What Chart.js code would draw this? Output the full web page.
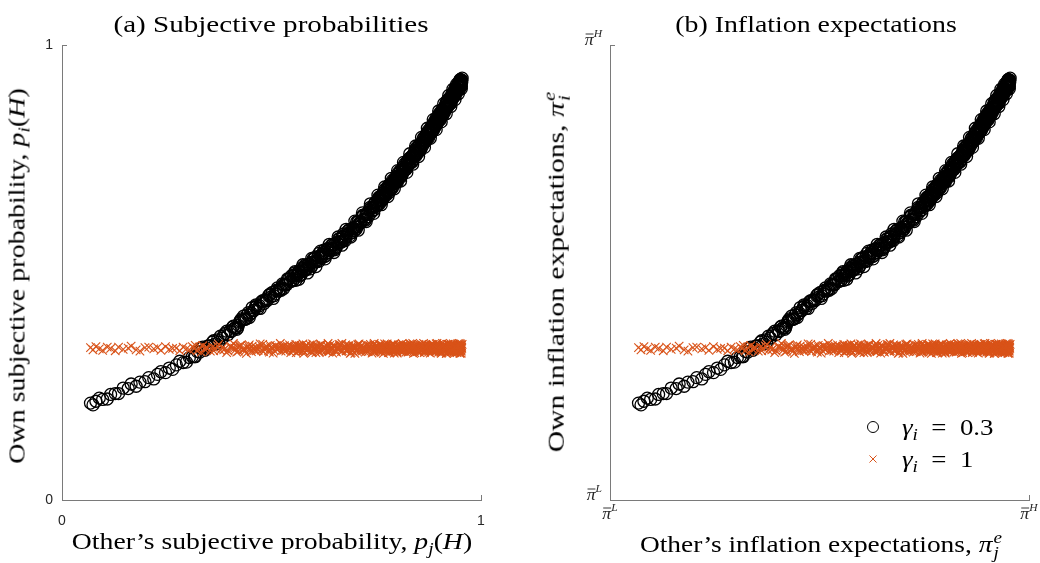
<!DOCTYPE html>
<html>
<head>
<meta charset="utf-8">
<script src="https://cdn.jsdelivr.net/npm/chart.js@4.4.1/dist/chart.umd.min.js"></script>
<style>
  html, body { margin: 0; padding: 0; background: #fff; }
  #wrap { position: relative; width: 1040px; height: 563px; overflow: hidden;
          font-family: "Liberation Serif", "Times New Roman", Times, serif; color: #000; }
  .panel { position: absolute; top: 0; width: 520px; height: 563px; }
  .lbl { position: absolute; white-space: nowrap; font-size: 23px; line-height: 1;
         transform-origin: center center; }
  .sb { font-size: 70%; position: relative; top: 0.28em; }
  .ss { display: inline-flex; flex-direction: column; font-size: 70%; line-height: 0.95;
        vertical-align: 0.55em; margin-left: 1px; }
</style>
</head>
<body>
<div id="wrap">
  <canvas id="panelA" class="panel" style="left:0" width="520" height="563"></canvas>
  <canvas id="panelB" class="panel" style="left:520px" width="520" height="563"></canvas>

  <div id="titleA" class="lbl">(a) Subjective probabilities</div>
  <div id="titleB" class="lbl">(b) Inflation expectations</div>
  <div id="xlabA" class="lbl">Other’s subjective probability, <i>p</i><span class="sb"><i>j</i></span>(<i>H</i>)</div>
  <div id="ylabA" class="lbl">Own subjective probability, <i>p</i><span class="sb"><i>i</i></span>(<i>H</i>)</div>
  <div id="xlabB" class="lbl">Other’s inflation expectations, <i>π</i><span class="ss"><i>e</i><i>j</i></span></div>
  <div id="ylabB" class="lbl">Own inflation expectations, <i>π</i><span class="ss"><i>e</i><i>i</i></span></div>
</div>

<script>
// Other agent's subjective probability of the high-inflation state, p_j(H)
const otherBelief = [
  .068,.074,.081,.089,.097,.108,.116,.127,.135,.146,.158,.165,.177,.186,.198,.207,.219,.228,.236,.247,.256,.264,.273,.281,.289,.297,
  .304,.311,.316,.323,.329,.336,.341,.347,.354,.359,.366,.371,.378,.383,.389,.396,.401,.407,.414,.419,
  .425,.431,.437,.442,.448,.454,.459,.465,.471,.476,.482,.488,.493,.498,
  .502,.506,.511,.514,.519,.523,.528,.531,.536,.540,
  .545,.548,.553,.557,.561,.566,.569,.574,.578,.582,
  .587,.590,.595,.599,.603,.608,.611,.616,.620,.624,
  .629,.632,.637,.641,.645,.650,.653,.658,.662,.666,
  .671,.674,.679,.683,.687,.692,.695,.700,.704,.708,
  .713,.716,.721,.725,.729,.734,.737,.742,.746,.749,
  .752,.754,.757,.759,.761,.764,.766,.768,.771,.773,
  .775,.778,.780,.782,.785,.787,.789,.792,.794,.796,
  .799,.801,.803,.806,.808,.810,.813,.815,.817,.820,
  .822,.824,.827,.829,.831,.834,.836,.838,.841,.843,
  .845,.848,.850,.852,.855,.857,.859,.862,.864,.866,
  .869,.871,.873,.876,.878,.880,.883,.885,.887,.890,
  .892,.894,.897,.899,.901,.903,.906,.908,.910,.912,
  .914,.917,.919,.921,.923,.925,.927,.929,.931,.933,
  .935,.937,.939,.940,.942,.943,.945,.946,.948,.949,
  .950,.951,.952,.953,
  .318,.332,.344,.362,.374,.386,.393,.404,.412,.421,.428,.435,.445,.452,.462,.468,.479,.486,.495,.509,.517,.526,.534,.543,
  .551,.555,.559,.564,.571,.576,.580,.585,.592,.597,
  .601,.606,.613,.618,.622,.627,.634,.639,.643,.648,
  .655,.660,.664,.669,.676,.681,.685,.690,.697,.702,
  .706,.711,.718,.723,.727,.731,.739,.744,.747,
  .753,.756,.758,.760,.763,.765,.767,.770,.772,.774,
  .777,.779,.781,.784,.786,.788,.791,.793,.795,.798,
  .800,.802,.805,.807,.809,.812,.814,.816,.819,.821,
  .823,.826,.828,.830,.833,.835,.837,.840,.842,.844,
  .847,.849,.851,.854,.856,.858,.861,.863,.865,.868,
  .870,.872,.875,.877,.879,.882,.884,.886,.889,.891,
  .893,.896,.898,.900,.902,.905,.907,.909,.911,.913,
  .916,.918,.920,.922,.924,.926,.928,.930,.932,.934,
  .936,.938,.941,.944,.947,.950,.954,
  .409,.417,.424,.433,.440,.447,.456,.463,.473,.481,.489,.497,.504,.512,.521,.529,.538,.546,
  .553,.558,.562,.567,.572,.577,.583,.588,.593,.598,
  .604,.609,.614,.619,.625,.630,.635,.640,.646,.651,
  .656,.661,.667,.672,.677,.682,.688,.693,.698,.703,
  .709,.714,.719,.724,.730,.735,.740,.745,
  .751,.755,.758,.762,.764,.767,.771,.773,.776,.780,
  .782,.785,.789,.791,.794,.798,.800,.803,.807,.809,
  .812,.816,.818,.821,.825,.827,.830,.834,.836,.839,
  .843,.845,.848,.852,.854,.857,.861,.863,.866,.870,
  .872,.875,.879,.881,.884,.888,.890,.893,.897,.899,
  .902,.906,.908,.911,.915,.917,.920,.924,.926,.929,
  .933,.935,.938,.942,.944,.947,.951,.953,
  .881,.886,.892,.895,.901,.904,.909,.913,.918,.921,
  .925,.928,.931,.934,.937,.939,.941,.943,.945,.946,
  .948,.949,.950,.951,.952,.953,.954,.955,.944,.947,
  .949,.951,.952,.953,.950,.946,.940,.936,.930,.922,
  .556,.565,.575,.586,.596,.606,.617,.628,.638,.649,
  .659,.668,.678,.689,.699,.707,.717,.726,.736,.744,
  .754,.762,.770,.778,.786,.793,.801,.808,.815,.823,
  .830,.837,.844,.851,.858,.865,.872,.879,.886,.893,
  .899,.905,.911,.917,.923,.928,.933,.938,.942,.946,
  .950,.953
];

// Own subjective probability p_i(H) when gamma_i = 0.3
const ownBeliefGammaLow = [
  .213,.209,.217,.224,.221,.222,.232,.234,.234,.246,.245,.255,.250,.259,.260,.269,.266,.276,.282,.280,.290,.287,.297,.305,.302,.303,
  .313,.315,.315,.326,.325,.336,.329,.338,.339,.347,.343,.352,.360,.356,.366,.363,.372,.380,.378,.378,
  .394,.396,.397,.407,.407,.423,.417,.427,.427,.436,.432,.442,.449,.446,
  .456,.449,.459,.466,.462,.461,.473,.473,.473,.485,
  .482,.493,.484,.494,.493,.503,.495,.506,.513,.507,
  .518,.512,.521,.529,.524,.524,.535,.537,.533,.544,
  .541,.552,.544,.554,.553,.561,.554,.565,.573,.567,
  .578,.572,.582,.591,.586,.587,.598,.600,.600,.613,
  .612,.623,.616,.627,.627,.638,.631,.643,.651,.645,
  .656,.650,.659,.667,.660,.659,.671,.671,.670,.681,
  .677,.690,.679,.690,.687,.696,.688,.699,.705,.698,
  .710,.703,.712,.722,.714,.713,.726,.726,.724,.737,
  .734,.745,.736,.747,.743,.754,.745,.756,.764,.757,
  .768,.763,.771,.780,.774,.773,.786,.787,.786,.797,
  .796,.807,.797,.809,.806,.816,.809,.820,.827,.822,
  .833,.827,.837,.846,.839,.837,.852,.852,.851,.863,
  .860,.873,.863,.874,.871,.881,.873,.884,.891,.885,
  .896,.890,.899,.906,.899,.897,.910,.908,.907,.918,
  .913,.924,.912,.921,
  .315,.334,.334,.350,.347,.363,.371,.370,.378,.384,.398,.397,.412,.411,.424,.421,.438,.439,.451,.453,.459,.475,.474,.486,
  .482,.499,.492,.502,.495,.509,.516,.509,.518,.515,
  .531,.526,.542,.533,.541,.535,.550,.549,.560,.551,
  .556,.574,.568,.579,.570,.586,.594,.587,.597,.595,
  .612,.608,.626,.618,.629,.623,.643,.643,.654,
  .647,.665,.657,.666,.657,.670,.676,.669,.675,.670,
  .687,.680,.693,.684,.693,.685,.701,.698,.708,.699,
  .701,.718,.711,.721,.710,.725,.732,.723,.731,.727,
  .742,.737,.750,.740,.751,.743,.758,.756,.767,.756,
  .760,.777,.769,.781,.770,.784,.792,.784,.791,.788,
  .804,.798,.813,.803,.813,.807,.822,.819,.832,.821,
  .824,.842,.835,.845,.835,.850,.857,.849,.856,.852,
  .870,.864,.878,.868,.878,.871,.885,.883,.894,.884,
  .887,.904,.899,.910,.902,.917,.918,
  .382,.375,.391,.404,.398,.401,.416,.429,.421,.437,.438,.453,.443,.461,.464,.465,.486,.480,
  .494,.483,.497,.492,.510,.504,.506,.518,.508,.523,
  .533,.524,.525,.536,.549,.537,.550,.548,.561,.550,
  .566,.567,.567,.585,.577,.591,.581,.596,.592,.611,
  .608,.610,.624,.615,.632,.643,.636,.638,
  .649,.663,.651,.668,.666,.664,.683,.673,.686,.675,
  .689,.684,.703,.696,.696,.710,.698,.713,.724,.714,
  .715,.728,.739,.727,.742,.739,.752,.742,.756,.756,
  .756,.773,.764,.779,.767,.782,.779,.796,.791,.794,
  .806,.796,.813,.821,.814,.816,.827,.839,.830,.842,
  .841,.856,.844,.860,.862,.860,.879,.872,.885,.874,
  .891,.886,.904,.901,.901,.915,.907,.920,
  .819,.812,.832,.828,.850,.844,.846,.863,.875,.865,
  .878,.872,.891,.897,.892,.890,.903,.910,.902,.917,
  .910,.906,.918,.924,.913,.909,.923,.927,.899,.912,
  .921,.913,.909,.923,.915,.901,.906,.888,.888,.871,
  .502,.485,.517,.499,.531,.513,.547,.530,.562,.544,
  .578,.560,.595,.578,.613,.593,.631,.612,.651,.630,
  .670,.649,.688,.667,.707,.684,.724,.701,.742,.720,
  .761,.738,.778,.755,.797,.775,.817,.795,.836,.814,
  .855,.831,.871,.849,.889,.865,.903,.880,.914,.893,
  .924,.904
];

// Own subjective probability p_i(H) when gamma_i = 1
const ownBeliefGammaOne = [
  .335,.330,.337,.332,.329,.336,.333,.328,.336,.331,.334,.338,.330,.327,.335,.336,.332,.335,.329,.337,.331,.333,.334,.328,.336,.332,
  .330,.337,.333,.328,.335,.339,.331,.334,.327,.336,.333,.338,.329,.335,.332,.328,.337,.334,.330,.336,
  .339,.331,.327,.335,.333,.338,.329,.334,.336,.330,.332,.338,.328,.335,
  .334,.329,.338,.331,.336,.327,.333,.339,.330,.335,
  .332,.337,.328,.334,.338,.330,.336,.329,.333,.339,
  .331,.335,.327,.337,.334,.330,.338,.332,.328,.336,
  .333,.339,.329,.335,.331,.337,.327,.334,.338,.330,
  .336,.332,.328,.339,.333,.329,.335,.337,.331,.334,
  .338,.327,.336,.330,.333,.339,.332,.328,.335,.337,
  .330,.336,.333,.339,.328,.334,.337,.331,.335,.327,
  .338,.332,.329,.336,.334,.339,.330,.333,.337,.328,
  .335,.331,.338,.329,.336,.333,.327,.339,.332,.334,
  .330,.337,.335,.328,.338,.331,.336,.333,.329,.339,
  .334,.327,.337,.332,.335,.330,.338,.336,.328,.333,
  .339,.331,.334,.329,.337,.335,.330,.338,.332,.336,
  .328,.333,.339,.331,.335,.327,.337,.334,.330,.336,
  .338,.329,.333,.335,.331,.339,.328,.336,.334,.330,
  .337,.332,.338,.329,.335,.333,.339,.331,.336,.328,
  .334,.337,.330,.335,
  .340,.325,.335,.328,.342,.330,.324,.337,.334,.327,.341,.331,.338,.326,.336,.329,.342,.332,.325,.339,.333,.337,.327,.341,.330,.335,.324,.338,.340,.328,
  .336,.329,.341,.324,.333,.339,.327,.342,.331,.335,.326,.340,.330,.337,.325,.334,.341,.328,.336,.332,.339,.324,.338,.330,.342,.327,.335,.331,.340,.326,
  .332,.341,.326,.337,.329,.342,.334,.325,.339,.331,.336,.328,.340,.333,.324,.338,.330,.341,.327,.335,.342,.329,.337,.325,.333,.340,.328,.336,.331,.339,
  .327,.338,.333,.341,.325,.336,.330,.342,.328,.339,.334,.324,.337,.331,.340,.326,.335,.329,.342,.332,.338,.327,.341,.330,.336,.325,.339,.333,.328,.340,
  .341,.330,.337,.326,.339,.333,.342,.328,.335,.324,.338,.332,.340,.327,.336,.331,.342,.325,.334,.339,.329,.337,.341,.328,.335,.330,.340,.326,.338,.333,
  .344,.325,.337,.330,.322,.341,.333,.328,.343,.326,
  .336,.340,.323,.331,.344,.329,.338,.324,.335,.342,
  .327,.339,.332,.322,.341,.334,.326,.343,.330,.337,
  .324,.340,.335,.328,.344,.331,.323,.338,.333,.342,
  .326,.336,.341,.329,.322,.339,.334,.327,.343,.331,
  .337,.325,.340,.332,.323,.344,.330,.336,.328,.341,
  .333,.322,.338,.327,.343,.335,.324,.339,.331,.342,
  .329,.336,.323,.341,.334,.326,.344,.332,.338,.325,
  .340,.330,.343,.327,.335,.322,.339,.333,.328,.342,
  .324,.337,.331,.344,.326,.340,.329,.335,.323,.338,
  .341,.332,.327,.343,.336,.325,.339,.330,.344,.328,
  .334,.322,.342,.331,.337,.326,.340,.333,.324,.338,
  .343,.329,.335,.323,.341,.328,.336,.344,.330,.325,
  .339,.333,.322,.342,.327,.337,.331,.343,.326,.340,
  .332,.324,.338,.329,.344,.335,.323,.341,.334,.327,
  .336,.342,.328,.331,.325,.343,.330,.339,.322,.337,
  .335,.326,.341,.333,
  .338,.327,.343,.330,.336,.324,.341,.333,.326,.339,
  .331,.344,.328,.335,.322,.340,.334,.329,.342,.325,
  .337,.332,.343,.327,.339,.323,.335,.341,.330,.336,
  .326,.344,.333,.328,.340,.324,.338,.331,.342,.329,
  .335,.322,.341,.334,.327,.343,.330,.337,.325,.339,
  .332,.340
];

const gammaValues = ['0.3', '1'];
const probTickLabels = ['0', '1'];
const inflTickLabels = ['L', 'H'];   // superscripts of the bounds π̄^L and π̄^H

const BLACK = '#000000';
const ORANGE = '#D95319';
const AXIS = '#7a7a7a';
const TICKTXT = '#262626';
const SERIF = '"Liberation Serif", "Times New Roman", Times, serif';

function toPoints(xs, ys) {
  const pts = [];
  for (let k = 0; k < xs.length && k < ys.length; k++) pts.push({ x: xs[k], y: ys[k] });
  return pts;
}

// Draw a run of differently styled text pieces (for sub/superscripts and bars)
function richWidth(ctx, parts) {
  let w = 0;
  for (const p of parts) { ctx.font = p.font; w += ctx.measureText(p.text).width; }
  return w;
}
function drawRich(ctx, parts, x, y, align, sx) {
  ctx.save();
  ctx.translate(x, y);
  ctx.scale(sx || 1, 1);
  const w = richWidth(ctx, parts);
  let cx = align === 'right' ? -w : align === 'center' ? -w / 2 : 0;
  ctx.textAlign = 'left';
  ctx.textBaseline = 'alphabetic';
  for (const p of parts) {
    ctx.font = p.font;
    const pw = ctx.measureText(p.text).width;
    ctx.fillText(p.text, cx, p.dy || 0);
    if (p.bar) {
      ctx.beginPath();
      ctx.lineWidth = 0.9;
      ctx.moveTo(cx + pw * 0.1, -p.bar);
      ctx.lineTo(cx + pw * 0.98, -p.bar);
      ctx.stroke();
    }
    cx += pw;
  }
  ctx.restore();
}

function piBound(sup) {
  return [
    { text: 'π', font: `italic 17px ${SERIF}`, bar: 11 },
    { text: sup, font: `italic 11px ${SERIF}`, dy: -8 }
  ];
}

// Inward tick marks at both ends of each axis, plus end labels
function axisDecor(kind) {
  return {
    id: 'axisDecor' + kind,
    afterDraw(chart) {
      const ctx = chart.ctx;
      const xs = chart.scales.x, ys = chart.scales.y;
      const left = chart.chartArea.left, bottom = chart.chartArea.bottom;
      const tl = 5;
      ctx.save();
      ctx.strokeStyle = AXIS;
      ctx.lineWidth = 1;
      [xs.min, xs.max].forEach(v => {
        const px = Math.round(xs.getPixelForValue(v)) + 0.5;
        ctx.beginPath(); ctx.moveTo(px, bottom); ctx.lineTo(px, bottom - tl); ctx.stroke();
      });
      [ys.min, ys.max].forEach(v => {
        const py = Math.round(ys.getPixelForValue(v)) + 0.5;
        ctx.beginPath(); ctx.moveTo(left, py); ctx.lineTo(left + tl, py); ctx.stroke();
      });

      ctx.fillStyle = TICKTXT;
      ctx.strokeStyle = TICKTXT;
      const xv = [xs.min, xs.max], yv = [ys.min, ys.max];
      if (kind === 'prob') {
        ctx.font = '14px "Liberation Sans", Arial, Helvetica, sans-serif';
        ctx.textAlign = 'center'; ctx.textBaseline = 'middle';
        xv.forEach((v, k) => ctx.fillText(probTickLabels[k], xs.getPixelForValue(v), bottom + 21));
        ctx.textAlign = 'right';
        yv.forEach((v, k) => ctx.fillText(probTickLabels[k], left - 9, ys.getPixelForValue(v)));
      } else {
        xv.forEach((v, k) => drawRich(ctx, piBound(inflTickLabels[k]), xs.getPixelForValue(v), bottom + 19, 'center', 1.05));
        yv.forEach((v, k) => drawRich(ctx, piBound(inflTickLabels[k]), left - 8, ys.getPixelForValue(v), 'right', 1.05));

        // legend
        const ds = chart.data.datasets;
        const mx = left + 263, tx = left + 292;
        const rows = [chart.chartArea.top + 382, chart.chartArea.top + 414];
        ds.forEach((d, k) => {
          ctx.save();
          ctx.strokeStyle = d.borderColor;
          ctx.fillStyle = 'rgba(0,0,0,0)';
          ctx.lineWidth = 1;
          Chart.helpers.drawPoint(ctx, { pointStyle: d.pointStyle, radius: d.legendRadius, rotation: 0, borderWidth: 1 }, mx, rows[k]);
          ctx.restore();
          ctx.fillStyle = '#000';
          drawRich(ctx, [
            { text: 'γ', font: `italic 24px ${SERIF}` },
            { text: 'i', font: `italic 17px ${SERIF}`, dy: 5 },
            { text: '\u2002=\u2002' + gammaValues[k], font: `24px ${SERIF}` }
          ], tx, rows[k] + 8, 'left', 1.12);
        });
      }
      ctx.restore();
    }
  };
}

function makePanel(canvasId, kind, padding) {
  const datasets = [
    {
      label: 'gamma_i = ' + gammaValues[0],
      data: toPoints(otherBelief, ownBeliefGammaLow),
      pointStyle: 'circle', pointRadius: 6, legendRadius: 5.5,
      borderColor: BLACK, backgroundColor: 'rgba(0,0,0,0)', borderWidth: 1.3,
      order: 1
    },
    {
      label: 'gamma_i = ' + gammaValues[1],
      data: toPoints(otherBelief, ownBeliefGammaOne),
      pointStyle: 'crossRot', pointRadius: 6, legendRadius: 5,
      borderColor: ORANGE, backgroundColor: ORANGE, borderWidth: 1.1,
      order: 0
    }
  ];
  const axis = (horizontal) => ({
    type: 'linear', min: 0, max: 1,
    grid: { display: false },
    border: { display: true, color: AXIS, width: 1 },
    ticks: { display: false },
    afterFit(scale) { if (horizontal) scale.height = 0; else scale.width = 0; }
  });
  return new Chart(document.getElementById(canvasId), {
    type: 'scatter',
    data: { datasets },
    options: {
      responsive: false,
      devicePixelRatio: 1,
      animation: false,
      events: [],
      layout: { padding },
      scales: { x: axis(true), y: axis(false) },
      plugins: { legend: { display: false }, tooltip: { enabled: false } }
    },
    plugins: [axisDecor(kind)]
  });
}

// Panel (b): expectations are p·π̄^H + (1−p)·π̄^L, so the same beliefs are
// shown on an axis running from π̄^L to π̄^H.
makePanel('panelA', 'prob', { left: 62, right: 39, top: 45, bottom: 63 });
makePanel('panelB', 'infl', { left: 90, right: 11, top: 45, bottom: 63 });

// Titles and axis labels, centred on their axes and stretched to their widths
function fitLabel(id, cx, cy, width, rotated) {
  const el = document.getElementById(id);
  el.style.left = cx + 'px';
  el.style.top = cy + 'px';
  const k = width / el.offsetWidth;
  el.style.transform = 'translate(-50%,-50%)' + (rotated ? ' rotate(-90deg)' : '') + ' scaleX(' + k.toFixed(3) + ')';
}
function layoutLabels() {
  fitLabel('titleA', 271, 24, 315, false);
  fitLabel('titleB', 816, 24, 281, false);
  fitLabel('xlabA', 272, 541, 400, false);
  fitLabel('xlabB', 821, 545, 362, false);
  fitLabel('ylabA', 17, 276, 375, true);
  fitLabel('ylabB', 557, 272, 360, true);
}
layoutLabels();
if (document.fonts && document.fonts.ready) document.fonts.ready.then(layoutLabels);
</script>
</body>
</html>
